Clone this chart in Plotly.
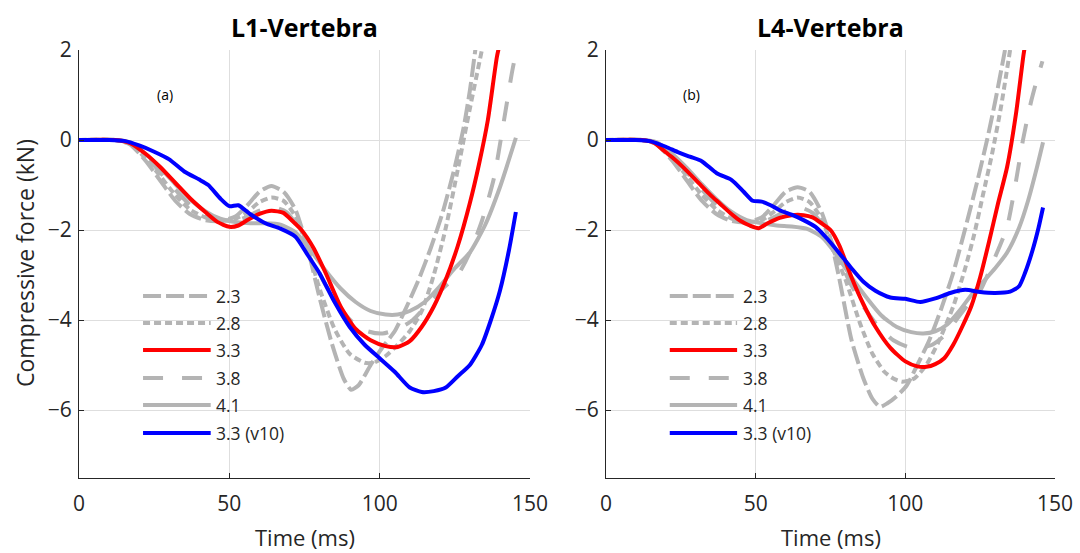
import plotly.graph_objects as go

# ---------------- data ----------------
# L1-Vertebra
l1_t_23 = [0, 12, 17, 22, 27, 32, 37, 42, 47, 52, 56, 60, 64, 68, 72, 76, 80, 84, 88, 90.5, 93, 97, 101, 105, 109, 113, 117, 121, 125, 128, 130, 132]
l1_y_23 = [0, 0, -0.1, -0.45, -0.9, -1.35, -1.65, -1.78, -1.8, -1.7, -1.45, -1.15, -1.02, -1.15, -1.55, -2.4, -3.5, -4.5, -5.3, -5.55, -5.45, -5.0, -4.6, -4.25, -3.7, -3.1, -2.4, -1.6, -0.6, 0.3, 1.1, 2.1]

l1_t_28 = [0, 12, 17, 22, 27, 32, 37, 42, 47, 52, 56, 60, 64, 68, 72, 76, 80, 85, 90, 95, 98, 102, 106, 110, 114, 118, 122, 126, 130, 134]
l1_y_28 = [0, 0, -0.08, -0.4, -0.8, -1.22, -1.55, -1.72, -1.8, -1.75, -1.6, -1.38, -1.28, -1.35, -1.7, -2.4, -3.3, -4.2, -4.75, -4.95, -4.95, -4.8, -4.55, -4.25, -3.8, -3.0, -1.95, -0.65, 0.7, 2.0]

l1_t_33 = [0, 12, 17, 22, 27, 32, 37, 42, 46, 50, 53, 56, 60, 64, 68, 71, 74, 78, 82, 87, 92, 97, 102, 106, 110, 114, 118, 122, 126, 130, 133, 136, 139, 140.5]
l1_y_33 = [0, 0, -0.07, -0.3, -0.6, -0.95, -1.3, -1.6, -1.82, -1.93, -1.9, -1.78, -1.64, -1.57, -1.62, -1.8, -2.0, -2.4, -2.95, -3.7, -4.2, -4.45, -4.58, -4.6, -4.47, -4.15, -3.7, -3.1, -2.35, -1.4, -0.55, 0.45, 1.85, 2.3]

l1_t_38 = [0, 12, 17, 22, 27, 32, 37, 42, 47, 52, 56, 60, 65, 69, 73, 77, 81, 86, 91, 96, 101, 106, 111, 116, 121, 126, 130, 134, 138, 141, 144, 145.5]
l1_y_38 = [0, 0, -0.06, -0.35, -0.72, -1.1, -1.45, -1.68, -1.8, -1.8, -1.7, -1.57, -1.5, -1.6, -1.95, -2.5, -3.1, -3.65, -4.05, -4.25, -4.3, -4.2, -4.0, -3.65, -3.3, -3.0, -2.5, -1.8, -0.85, 0.3, 1.5, 2.0]

l1_t_41 = [0, 12, 17, 22, 27, 32, 37, 42, 47, 52, 57, 62, 67, 72, 77, 82, 87, 92, 97, 102, 106, 110, 115, 120, 125, 130, 135, 140, 145.3]
l1_y_41 = [0, 0, -0.05, -0.3, -0.62, -0.98, -1.32, -1.58, -1.75, -1.82, -1.85, -1.85, -1.88, -2.05, -2.45, -2.9, -3.3, -3.6, -3.8, -3.88, -3.88, -3.8, -3.6, -3.25, -2.85, -2.5, -1.9, -1.05, 0.05]

l1_t_v10 = [0, 10, 15, 20, 25, 30, 35, 40, 43, 47, 50, 53, 57, 62, 67, 72, 76, 80, 85, 90, 95, 100, 105, 110, 114, 118, 122, 126, 130, 134, 137, 140, 143, 145.3]
l1_y_v10 = [0, 0, -0.02, -0.12, -0.26, -0.43, -0.7, -0.88, -1.0, -1.3, -1.47, -1.45, -1.65, -1.85, -1.97, -2.15, -2.55, -2.96, -3.6, -4.15, -4.55, -4.85, -5.15, -5.5, -5.6, -5.58, -5.5, -5.25, -5.0, -4.55, -4.0, -3.35, -2.45, -1.6]

# L4-Vertebra
l4_t_23 = [0, 12, 17, 22, 27, 32, 37, 42, 47, 52, 56, 60, 64, 68, 72, 75, 78, 82, 86, 89, 91.5, 94, 97, 100.5, 104, 108, 112, 116, 120, 124, 127.3, 130, 133.3]
l4_y_23 = [0, 0, -0.1, -0.45, -0.9, -1.35, -1.65, -1.8, -1.83, -1.72, -1.45, -1.15, -1.05, -1.15, -1.6, -2.2, -3.1, -4.44, -5.3, -5.75, -5.93, -5.85, -5.7, -5.45, -5.0, -4.45, -3.75, -2.95, -1.97, -0.93, 0.0, 0.85, 2.0]

l4_t_28 = [0, 12, 17, 22, 27, 32, 37, 42, 47, 52, 56, 60, 64, 68, 72, 76, 80, 85, 89, 93, 96, 99, 103, 107, 111, 116, 120, 123, 126, 129, 132, 135]
l4_y_28 = [0, 0, -0.08, -0.4, -0.8, -1.22, -1.55, -1.75, -1.83, -1.78, -1.6, -1.38, -1.28, -1.38, -1.75, -2.45, -3.1, -4.1, -4.75, -5.15, -5.3, -5.37, -5.3, -5.0, -4.5, -3.7, -2.85, -2.1, -1.2, -0.3, 0.75, 2.0]

l4_t_33 = [0, 12, 16, 19, 22, 26, 31, 35, 38, 42, 45, 48, 51, 54, 58, 62, 66, 69, 72, 75, 78, 82, 86, 90, 95, 100, 104, 107, 110, 113, 116, 119, 122, 125, 128, 131, 134, 137, 139.5, 140.5]
l4_y_33 = [0, 0, -0.06, -0.22, -0.38, -0.62, -0.96, -1.23, -1.41, -1.65, -1.8, -1.9, -1.96, -1.85, -1.73, -1.67, -1.67, -1.72, -1.85, -2.0, -2.35, -3.05, -3.65, -4.15, -4.62, -4.92, -5.03, -5.04, -4.98, -4.85, -4.55, -4.15, -3.7, -3.05, -2.25, -1.4, -0.6, 0.6, 1.9, 2.3]

l4_t_38 = [0, 12, 17, 22, 27, 32, 37, 42, 47, 52, 56, 60, 65, 69, 73, 77, 81, 86, 91, 96, 101, 105, 109, 113, 117, 121, 125, 130, 134, 137, 139.3, 142, 144, 145.8]
l4_y_38 = [0, 0, -0.06, -0.35, -0.72, -1.1, -1.45, -1.7, -1.83, -1.83, -1.72, -1.58, -1.5, -1.62, -1.95, -2.5, -3.1, -3.7, -4.15, -4.45, -4.6, -4.62, -4.55, -4.35, -4.0, -3.65, -3.35, -2.6, -1.93, -0.9, 0.0, 0.85, 1.35, 1.75]

l4_t_41 = [0, 12, 17, 22, 27, 32, 37, 42, 47, 52, 57, 62, 67, 72, 77, 82, 87, 92, 97, 102, 106, 110, 114, 118, 122, 126, 130, 134, 138, 141, 144, 146]
l4_y_41 = [0, 0, -0.05, -0.3, -0.62, -0.98, -1.32, -1.6, -1.78, -1.85, -1.9, -1.92, -1.97, -2.15, -2.55, -3.05, -3.5, -3.9, -4.15, -4.27, -4.3, -4.25, -4.1, -3.8, -3.45, -3.15, -2.85, -2.5, -1.95, -1.35, -0.6, -0.05]

l4_t_v10 = [0, 10, 15, 20, 24, 28, 32, 37, 42, 46, 49, 52, 55, 58, 62, 66, 70, 74, 78, 82, 86, 90, 95, 100, 105, 110, 115, 120, 125, 130, 135, 138, 140, 142.5, 144.5, 146]
l4_y_v10 = [0, 0, -0.03, -0.15, -0.27, -0.37, -0.47, -0.74, -0.89, -1.15, -1.35, -1.37, -1.45, -1.56, -1.66, -1.78, -1.93, -2.2, -2.52, -2.85, -3.15, -3.35, -3.5, -3.53, -3.6, -3.52, -3.4, -3.33, -3.38, -3.4, -3.37, -3.25, -2.95, -2.45, -1.95, -1.5]

series_labels = ["2.3", "2.8", "3.3", "3.8", "4.1", "3.3 (v10)"]
panel_titles = ["L1-Vertebra", "L4-Vertebra"]
panel_tags = ["(a)", "(b)"]
x_ticks = [0, 50, 100, 150]
y_ticks = [-6, -4, -2, 0, 2]

# ---------------- styles ----------------
GRAY = "#b4b4b4"
styles = {
    "2.3": dict(color=GRAY, dash="18px,5px", width=4),
    "2.8": dict(color=GRAY, dash="7px,4px", width=4),
    "3.3": dict(color="#ff0000", dash="solid", width=4),
    "3.8": dict(color=GRAY, dash="20px,19px", width=4),
    "4.1": dict(color=GRAY, dash="solid", width=4),
    "3.3 (v10)": dict(color="#0000ff", dash="solid", width=4),
}

panels = [
    {"2.3": (l1_t_23, l1_y_23), "2.8": (l1_t_28, l1_y_28), "3.3": (l1_t_33, l1_y_33),
     "3.8": (l1_t_38, l1_y_38), "4.1": (l1_t_41, l1_y_41), "3.3 (v10)": (l1_t_v10, l1_y_v10)},
    {"2.3": (l4_t_23, l4_y_23), "2.8": (l4_t_28, l4_y_28), "3.3": (l4_t_33, l4_y_33),
     "3.8": (l4_t_38, l4_y_38), "4.1": (l4_t_41, l4_y_41), "3.3 (v10)": (l4_t_v10, l4_y_v10)},
]

draw_order = ["2.3", "2.8", "3.8", "4.1", "3.3", "3.3 (v10)"]

W, H = 1080, 553
FONT = "Open Sans"
TXT = "#262626"

fig = go.Figure()
for pi, pdata in enumerate(panels):
    xa = "x" if pi == 0 else "x2"
    ya = "y" if pi == 0 else "y2"
    for name in draw_order:
        t, y = pdata[name]
        st = styles[name]
        fig.add_trace(go.Scatter(
            x=t, y=y, mode="lines", name=name, showlegend=False,
            line=dict(color=st["color"], dash=st["dash"], width=st["width"], shape="spline", smoothing=0.6),
            xaxis=xa, yaxis=ya,
        ))

# axis domains (pixel layout -> paper fractions)
x_dom = [[79 / W, 530 / W], [606 / W, 1055 / W]]
y_dom = [1 - 477.5 / H, 1 - 50 / H]

axis_common = dict(
    showgrid=True, gridcolor="#dedede", gridwidth=1,
    showline=True, linecolor=TXT, linewidth=1,
    ticks="inside", ticklen=5, tickcolor=TXT, tickwidth=1,
    zeroline=False, mirror=False, automargin=False,
    tickfont=dict(family=FONT, size=21, color=TXT),
)

for pi in range(2):
    sx = "" if pi == 0 else "2"
    fig.layout["xaxis" + sx] = dict(
        axis_common, domain=x_dom[pi], range=[0, 150], tickvals=x_ticks,
        anchor="y" + sx, ticklabelstandoff=7,
    )
    fig.layout["yaxis" + sx] = dict(
        axis_common, domain=y_dom, range=[-7.5, 2], tickvals=y_ticks,
        anchor="x" + sx, ticklabelstandoff=2,
    )

annotations = []
shapes = []
for pi in range(2):
    sx = "" if pi == 0 else "2"
    cx = (x_dom[pi][0] + x_dom[pi][1]) / 2
    annotations.append(dict(text="<b>" + panel_titles[pi] + "</b>", x=cx, y=1 - 27 / H,
                            xref="paper", yref="paper", showarrow=False,
                            font=dict(family=FONT, size=25, color="#000000"),
                            xanchor="center", yanchor="middle"))
    annotations.append(dict(text="Time (ms)", x=cx, y=1 - 537 / H,
                            xref="paper", yref="paper", showarrow=False,
                            font=dict(family=FONT, size=22, color=TXT),
                            xanchor="center", yanchor="middle"))
    annotations.append(dict(text=panel_tags[pi], x=0.19, y=0.895,
                            xref="x" + sx + " domain", yref="y" + sx + " domain", showarrow=False,
                            font=dict(family=FONT, size=14, color="#000000"),
                            xanchor="center", yanchor="middle"))
    # legend drawn inside each panel
    row_y = [0.4246, 0.3614, 0.2982, 0.2327, 0.1696, 0.1041]
    for name, ry in zip(series_labels, row_y):
        st = styles[name]
        shapes.append(dict(type="line", xref="x" + sx + " domain", yref="y" + sx + " domain",
                           x0=0.142, x1=0.292, y0=ry, y1=ry,
                           line=dict(color=st["color"], dash=st["dash"], width=st["width"])))
        annotations.append(dict(text=name, x=0.300, y=ry,
                                xref="x" + sx + " domain", yref="y" + sx + " domain", showarrow=False,
                                font=dict(family=FONT, size=17.5, color=TXT),
                                xanchor="left", yanchor="middle"))

annotations.append(dict(text="Compressive force (kN)", x=25 / W, y=1 - 263 / H,
                        xref="paper", yref="paper", showarrow=False, textangle=-90,
                        font=dict(family=FONT, size=23, color=TXT),
                        xanchor="center", yanchor="middle"))

fig.update_layout(
    width=W, height=H,
    margin=dict(l=0, r=0, t=0, b=0),
    paper_bgcolor="white", plot_bgcolor="white",
    showlegend=False,
    annotations=annotations, shapes=shapes,
)

fig.write_html("out.html")
